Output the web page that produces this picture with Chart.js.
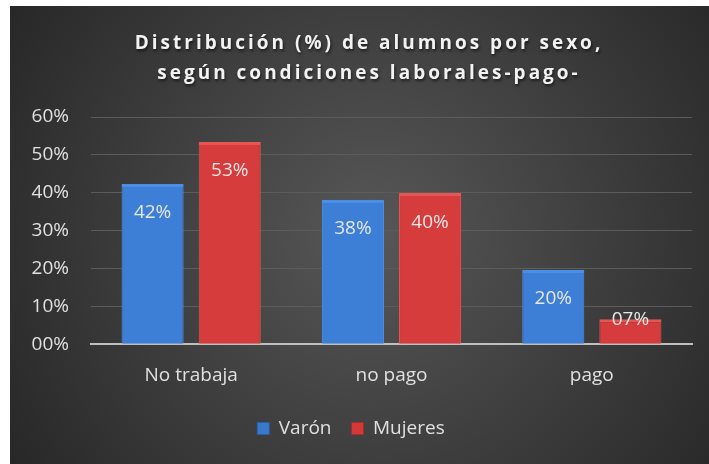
<!DOCTYPE html>
<html lang="es">
<head>
  <meta charset="UTF-8" />
  <title>Distribución de alumnos por sexo</title>
  <script src="https://cdn.jsdelivr.net/npm/chart.js"></script>
  <style>
    html, body { margin: 0; padding: 0; background: #ffffff; }
    #wrap { position: absolute; left: 10px; top: 6px; width: 699px; height: 458px; }
  </style>
</head>
<body>
  <div id="wrap"><canvas id="chart"></canvas></div>

  <script>
// datos
const categorias = ['No trabaja', 'no pago', 'pago'];
const varon = [42.3, 38.1, 19.6];
const mujeres = [53.4, 39.9, 6.6];
const yTicks = [0, 10, 20, 30, 40, 50, 60];
const titulo = ['Distribución (%) de alumnos por sexo,', 'según condiciones laborales-pago-'];

const fontFam = '"Open Sans", "Noto Sans", sans-serif';
const pct = v => String(Math.round(v)).padStart(2, '0') + '%';

// gradiente horizontal para dar el efecto de barra biselada
function barFill(ctx, c1, c2) {
    const chart = ctx.chart;
    const el = ctx.element;
    if (!chart.chartArea || !el || el.width === undefined) return c1;
    const x0 = el.x - el.width / 2, x1 = el.x + el.width / 2;
    const g = chart.ctx.createLinearGradient(x0, 0, x1, 0);
    g.addColorStop(0, c2);
    g.addColorStop(0.5, c1);
    g.addColorStop(1, c2);
    return g;
}

// fondo con degradado radial
const fondo = {
    id: 'fondo',
    beforeDraw(chart) {
        const { ctx, width, height } = chart;
        const g = ctx.createRadialGradient(width * 0.52, height * 0.5, 10, width * 0.52, height * 0.5, width * 0.62);
        g.addColorStop(0, '#565656');
        g.addColorStop(1, '#272727');
        ctx.save();
        ctx.fillStyle = g;
        ctx.fillRect(0, 0, width, height);
        ctx.restore();
    }
};

// título con espaciado entre letras
const tituloPlugin = {
    id: 'tituloPlugin',
    afterDraw(chart) {
        const ctx = chart.ctx;
        ctx.save();
        ctx.font = 'bold 19px ' + fontFam;
        ctx.letterSpacing = '3px';
        ctx.fillStyle = '#f2f2f2';
        ctx.textAlign = 'center';
        ctx.textBaseline = 'middle';
        ctx.shadowColor = 'rgba(0,0,0,0.6)';
        ctx.shadowOffsetX = 1;
        ctx.shadowOffsetY = 2;
        ctx.shadowBlur = 3;
        ctx.fillText(titulo[0], 359, 38);
        ctx.fillText(titulo[1], 359, 68);
        ctx.restore();
    }
};

// etiquetas de datos dentro del extremo de la barra
const etiquetas = {
    id: 'etiquetas',
    afterDatasetsDraw(chart) {
        const ctx = chart.ctx;
        ctx.save();
        ctx.font = '19px ' + fontFam;
        ctx.fillStyle = '#e6e6e6';
        ctx.textAlign = 'center';
        ctx.textBaseline = 'middle';
        chart.data.datasets.forEach((ds, i) => {
            chart.getDatasetMeta(i).data.forEach((bar, j) => {
                const h = bar.base - bar.y;
                const y = h > 50 ? bar.y + 29 : bar.y;
                ctx.fillText(pct(ds.data[j]), bar.x, y);
            });
        });
        ctx.restore();
    }
};

new Chart(document.getElementById('chart'), {
    type: 'bar',
    data: {
        labels: categorias,
        datasets: [
            {
                label: 'Varón',
                data: varon,
                backgroundColor: c => barFill(c, '#3d7fd6', '#2c63ae'),
                borderColor: '#4a8fe6',
                borderWidth: { top: 3, left: 1, right: 1, bottom: 0 },
                categoryPercentage: 0.77,
                barPercentage: 0.805
            },
            {
                label: 'Mujeres',
                data: mujeres,
                backgroundColor: c => barFill(c, '#d63c3c', '#ae2a2a'),
                borderColor: '#e85555',
                borderWidth: { top: 3, left: 1, right: 1, bottom: 0 },
                categoryPercentage: 0.77,
                barPercentage: 0.805
            }
        ]
    },
    options: {
        responsive: true,
        maintainAspectRatio: false,
        animation: false,
        layout: { padding: { top: 111, right: 17, left: 0, bottom: 16 } },
        plugins: {
            title: { display: false },
            tooltip: { enabled: false },
            legend: {
                position: 'bottom',
                labels: {
                    color: '#e0e0e0',
                    font: { family: fontFam, size: 19 },
                    boxWidth: 12,
                    boxHeight: 12,
                    padding: 20,
                    generateLabels(chart) {
                        return chart.data.datasets.map((ds, i) => ({
                            text: ds.label,
                            fillStyle: i === 0 ? '#3a78c9' : '#d23a3a',
                            strokeStyle: i === 0 ? '#2a5fa8' : '#a82a2a',
                            lineWidth: 1,
                            fontColor: '#e0e0e0',
                            datasetIndex: i
                        }));
                    }
                }
            }
        },
        scales: {
            x: {
                grid: { display: false },
                border: { color: '#bfbfbf', width: 2 },
                ticks: {
                    color: '#e0e0e0',
                    font: { family: fontFam, size: 19 },
                    padding: 12
                }
            },
            y: {
                min: 0,
                max: 60,
                afterBuildTicks(axis) {
                    axis.ticks = yTicks.map(v => ({ value: v }));
                },
                afterFit(axis) { axis.width = 81; },
                grid: { color: '#5c5c5c', lineWidth: 1, drawTicks: false },
                border: { display: false },
                ticks: {
                    color: '#e0e0e0',
                    font: { family: fontFam, size: 19 },
                    padding: 22,
                    callback: v => pct(v)
                }
            }
        }
    },
    plugins: [fondo, tituloPlugin, etiquetas]
});
  </script>
</body>
</html>
